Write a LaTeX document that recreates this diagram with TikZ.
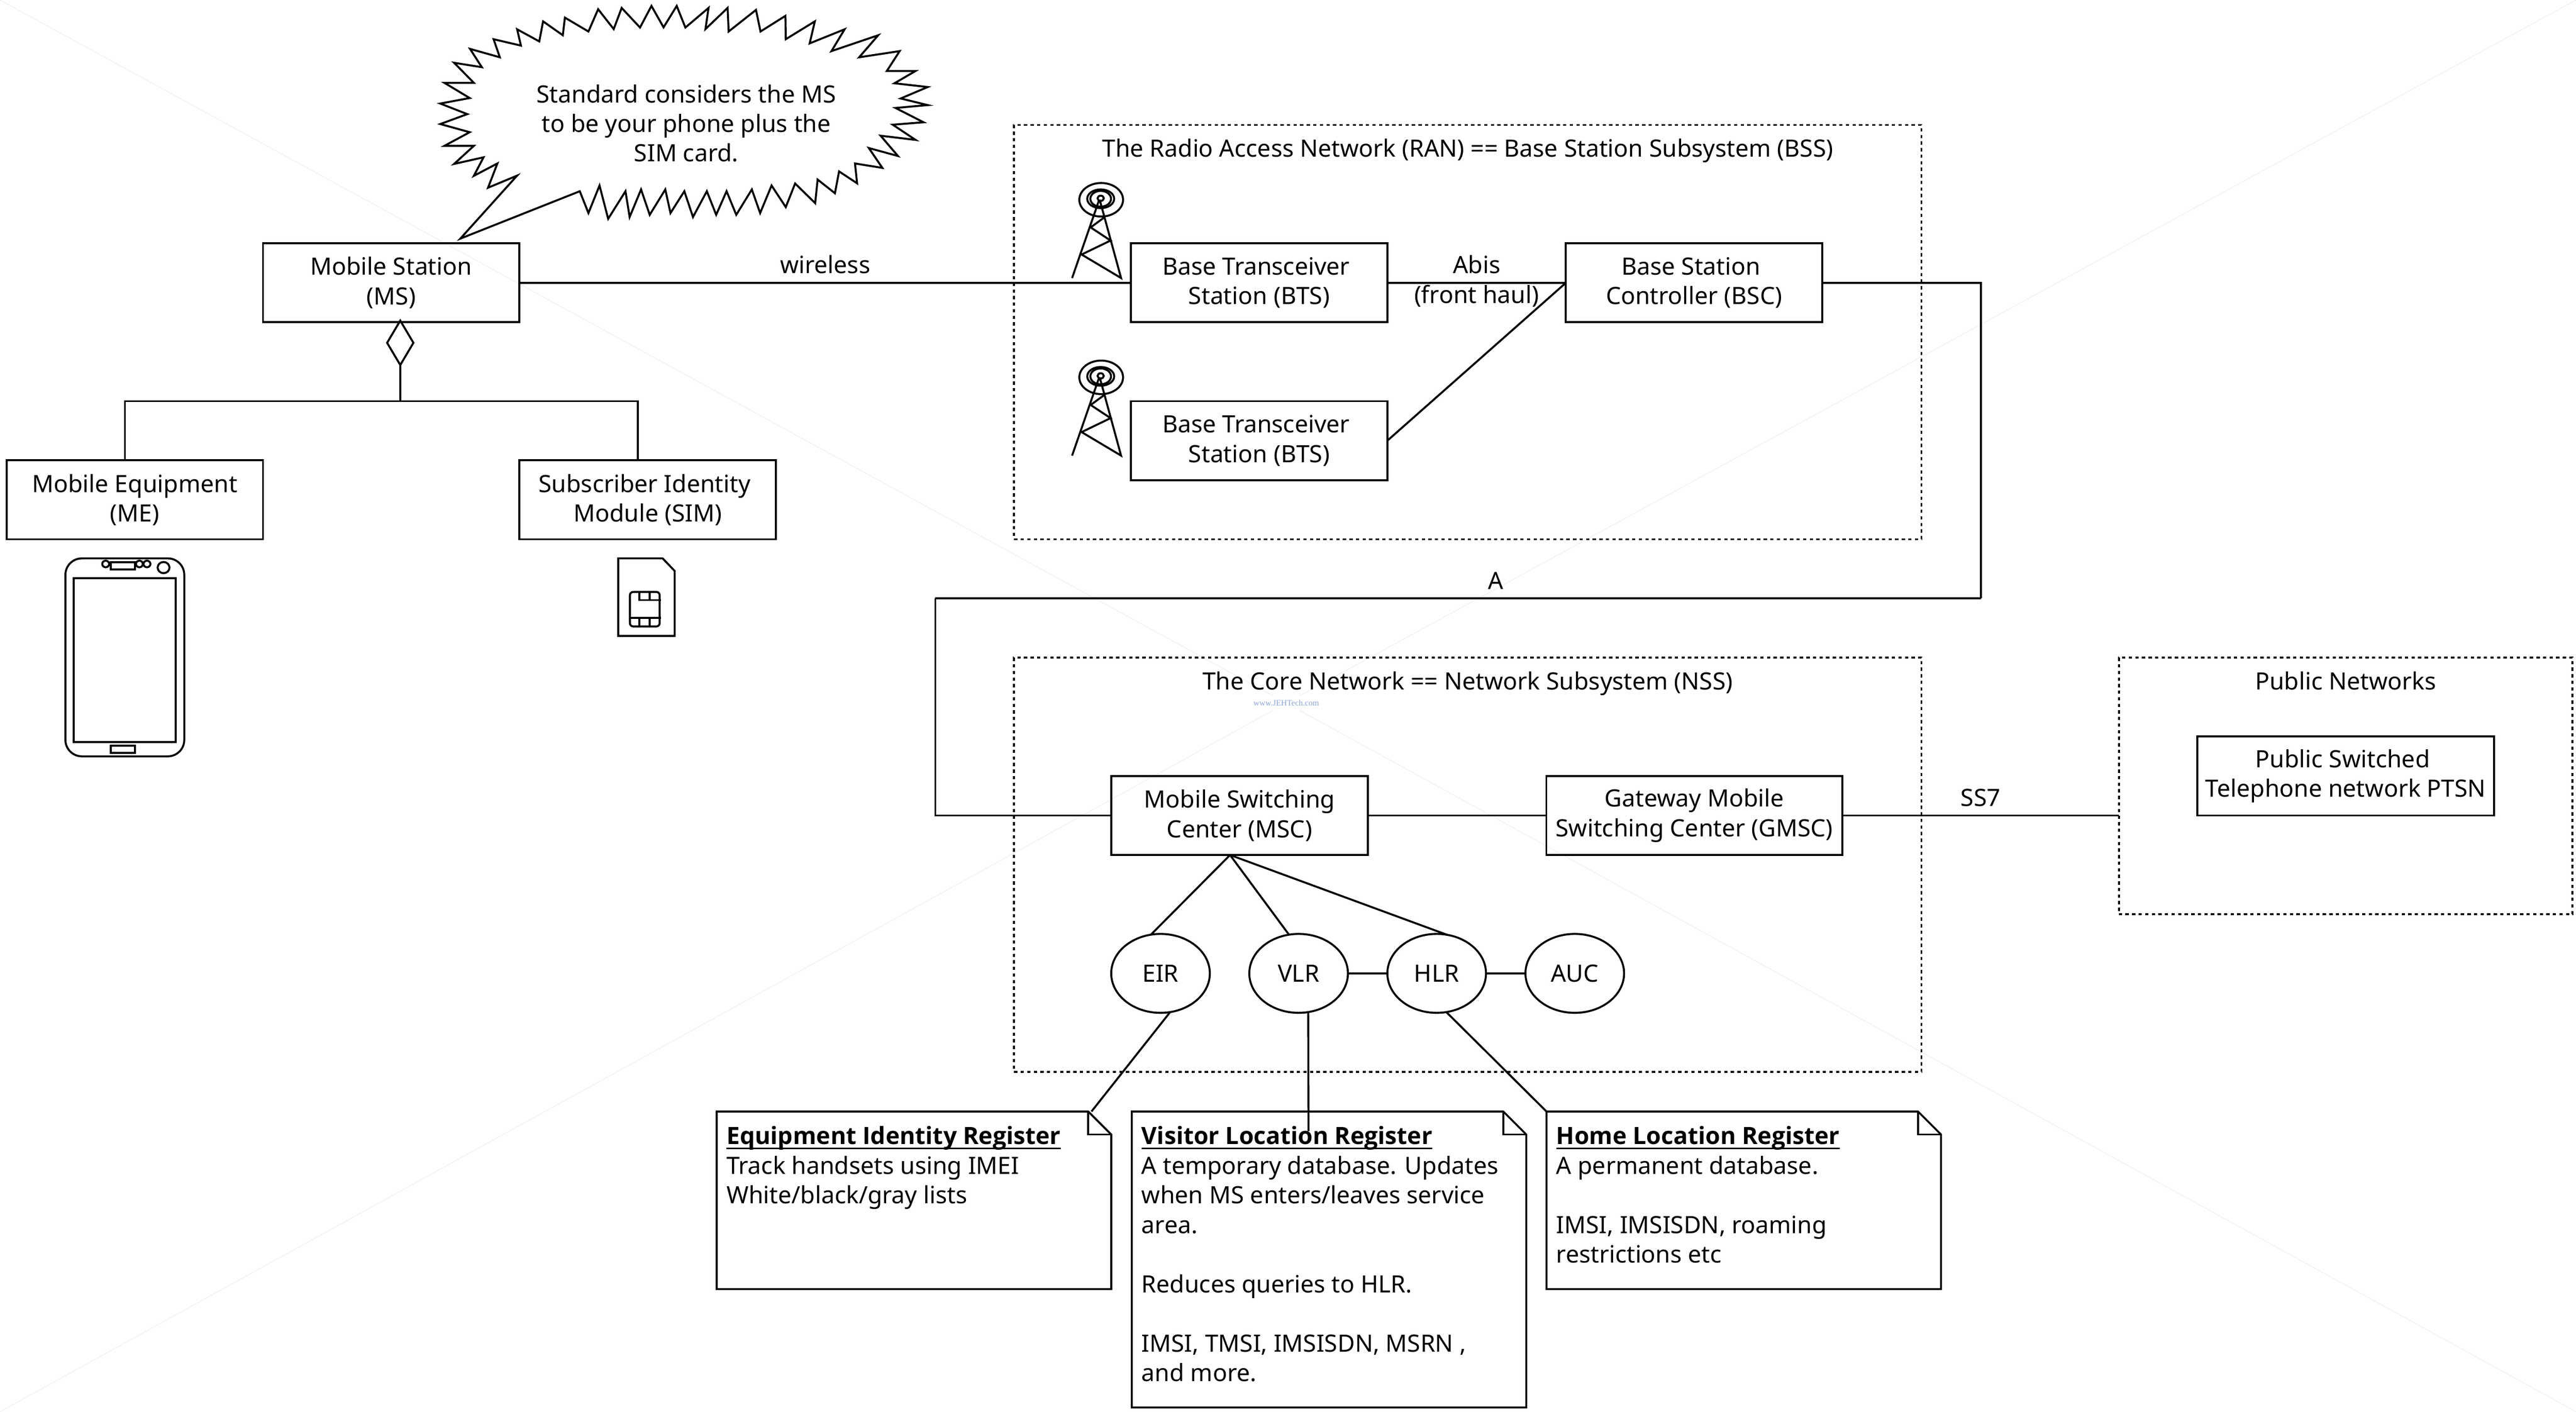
\documentclass[tikz,border=0pt]{standalone}
\usepackage{fontspec}
\setmainfont{Noto Sans}
\newfontfamily\headfont{Open Sans}
\newfontfamily\markfont{Liberation Serif}
\usetikzlibrary{shapes.geometric}
\definecolor{markblue}{RGB}{140,165,215}

\begin{document}
\begin{tikzpicture}[x=1pt,y=-1pt,line width=1.2pt]
    \tikzstyle{words}=[font=\fontsize{14.5}{18}\selectfont]
    \tikzstyle{unit}=[draw,
        shape=rectangle,
        words,
        align=center,
        inner sep=1pt,
        outer sep=0pt,
        minimum width=156pt,
        minimum height=48pt]
    \tikzstyle{store}=[draw,
        shape=ellipse,
        words,
        inner sep=0pt,
        outer sep=0pt,
        minimum width=60pt,
        minimum height=48pt]
    \tikzstyle{group}=[draw,
        shape=rectangle,
        dash pattern=on 2pt off 2pt,
        outer sep=0pt]
    \tikzstyle{tag}=[words,inner sep=2pt,align=center]
    \tikzstyle{label}=[tag,text height=10pt,text depth=3pt]
    \tikzstyle{memo}=[words,inner sep=6pt,outer sep=0pt,anchor=north west]
    \tikzstyle{water}=[line width=0.35pt,color=black!7]
    \newcommand{\heading}[1]{\setbox0\hbox{\headfont\bfseries #1}\rlap{\rule[-2.9pt]{\wd0}{1pt}}\box0\\}
    \newcommand{\memotext}[2]{\parbox[t][#1][t]{228pt}{\raggedright\rule{0pt}{14.1pt}#2}}

    \useasboundingbox (0,0) rectangle (1567.1,858.6);

    \node[font=\markfont\fontsize{5}{6}\selectfont,text=markblue,inner sep=2pt] (mark) at (782.5,427.6) {www.JEHTech.com};
    \coordinate (nw) at (0,0);
    \coordinate (ne) at (1567.1,0);
    \coordinate (sw) at (0,858.6);
    \coordinate (se) at (1567.1,858.6);
    \draw[water] (nw) -- (mark) (mark) -- (se) (ne) -- (mark) (mark) -- (sw);

    \node[group,minimum width=552pt,minimum height=252pt] (ran) at (892.9,202) {};
    \node[label,above of=ran,node distance=110pt] (rantitle) {The Radio Access Network (RAN) == Base Station Subsystem (BSS)};
    \node[group,below of=ran,node distance=324pt,minimum width=552pt,minimum height=252pt] (nss) {};
    \node[label,above of=nss,node distance=110pt] (nsstitle) {The Core Network == Network Subsystem (NSS)};
    \node[group,minimum width=276pt,minimum height=156pt] (pub) at (1427,478) {};
    \node[label,above of=pub,node distance=62pt] (pubtitle) {Public Networks};

    \node[unit] (ms) at (238,172) {Mobile Station\\(MS)};
    \node[unit,below of=ms,node distance=132pt,xshift=-156pt] (me) {Mobile Equipment\\(ME)};
    \node[unit,below of=ms,node distance=132pt,xshift=156pt] (sim) {Subscriber Identity~\mbox{}\\Module (SIM)};
    \node[unit] (bts1) at (766,172) {Base Transceiver~\mbox{}\\Station (BTS)};
    \node[unit,below of=bts1,node distance=96pt] (bts2) {Base Transceiver~\mbox{}\\Station (BTS)};
    \node[unit,right of=bts1,node distance=264.6pt] (bsc) {Base Station~\mbox{}\\Controller (BSC)};
    \node[unit] (msc) at (754.1,496) {Mobile Switching\\Center (MSC)};
    \node[unit,right of=msc,node distance=276.6pt,minimum width=180pt] (gmsc) {Gateway Mobile\\Switching Center (GMSC)};
    \node[unit,above of=pub,node distance=6pt,minimum width=180.5pt] (ptsn) {Public Switched~\mbox{}\\Telephone network PTSN};

    \node[store] (eir) at (706,592) {EIR};
    \node[store,right of=eir,node distance=84pt] (vlr) {VLR};
    \node[store,right of=vlr,node distance=84pt] (hlr) {HLR};
    \node[store,right of=hlr,node distance=84pt] (auc) {AUC};

    \node[draw,shape=diamond,inner sep=0pt,outer sep=0pt,minimum width=16pt,minimum height=27pt] (agg) at (243.5,208.5) {};
    \coordinate[below of=agg,node distance=35.5pt] (fork);
    \draw (agg.south) -- (fork);
    \draw ([xshift=-6pt]me.north) |- (fork);
    \draw ([xshift=-6pt]sim.north) |- (fork);

    \node[memo] (eirnote) at (436,676) {\memotext{96pt}{\heading{Equipment Identity Register}
        Track handsets using IMEI\\
        White/black/gray lists}};
    \node[memo] (vlrnote) at (688.5,676) {\memotext{168pt}{\heading{Visitor Location Register}
        A temporary database. Updates\\
        when MS enters/leaves service\\
        area.\\[18pt]
        Reduces queries to HLR.\\[18pt]
        IMSI, TMSI, IMSISDN, MSRN ,\\
        and more.}};
    \node[memo] (hlrnote) at (940.8,676) {\memotext{96pt}{\heading{Home Location Register}
        A permanent database.\\[18pt]
        IMSI, IMSISDN, roaming\\
        restrictions etc}};
    \foreach \n in {eirnote,vlrnote,hlrnote} {
        \draw (\n.north west) -- ([xshift=-14pt]\n.north east) -- ([yshift=-14pt]\n.north east)
            -- (\n.south east) -- (\n.south west) -- cycle;
        \draw ([xshift=-14pt]\n.north east) -- ([xshift=-14pt,yshift=-14pt]\n.north east) -- ([yshift=-14pt]\n.north east);
    }

    \coordinate (aright) at (1205,364);
    \coordinate (aleft) at (569,364);
    \coordinate (mscfoot) at (748.3,520);
    \coordinate (vlrend) at (796,688);
    \path (ms.east) edge node[label,above]{wireless} (bts1.west)
            (bts1.east) edge node[label,above]{Abis} node[label,below]{(front haul)} (bsc.west)
            (bts2.east) edge (bsc.west)
            (msc.east) edge (gmsc.west)
            (gmsc.east) edge node[label,above]{SS7} (pub.west |- gmsc.east)
            (aright) edge node[label,above,pos=0.464]{A} (aleft)
            (mscfoot) edge (eir.104) (mscfoot) edge (vlr.104) (mscfoot) edge (hlr.75)
            (vlr) edge (hlr) (hlr) edge (auc)
            (eir.284) edge ([xshift=-12pt]eirnote.north east)
            (vlr.284) edge (vlrend)
            (hlr.284) edge (hlrnote.north west);
    \draw (bsc.east) -| (aright);
    \draw (aleft) |- (msc.west);

    \node[tag] (say) at (417.5,75) {Standard considers the MS\\to be your phone plus the\\SIM card.};
    \begin{scope}[shift={(255.2,0)},xscale=0.2106,yscale=0.134]
        \draw plot coordinates {(118,1083) (282,797) (198,852) (225,742) (157,798) (185,714) (100,744) (157,662) (72,662) (145,600) (60,563) (138,518) (60,470) (145,445) (72,376) (157,376) (100,285) (180,305) (146,222) (232,260) (214,178) (293,207) (282,133) (346,188) (357,97) (414,160) (420,80) (488,143) (516,42) (561,132) (584,36) (637,125) (670,27) (705,124) (743,27) (768,125) (835,36) (826,132) (890,36) (893,143) (972,45) (985,143) (1057,72) (1058,178) (1142,97) (1127,197) (1228,133) (1190,232) (1325,160) (1270,260) (1387,232) (1350,322) (1433,322) (1372,378) (1468,395) (1390,447) (1468,477) (1375,490) (1456,555) (1367,566) (1433,635) (1332,616) (1382,708) (1298,672) (1337,762) (1258,742) (1264,832) (1212,778) (1200,877) (1150,815) (1143,922) (1085,833) (1058,940) (1017,842) (984,967) (960,860) (915,975) (887,868) (857,975) (830,868) (790,985) (765,868) (725,967) (710,860) (665,975) (640,860) (607,985) (595,868) (545,993) (520,842) (488,967) (463,868)} -- cycle;
    \end{scope}

    \foreach \n in {0,108} {
        \begin{scope}[yshift=-\n pt]
            \draw (669.9,121.5) ellipse [x radius=13.3,y radius=10.2];
            \draw (669.6,120.9) ellipse [x radius=8.2,y radius=5.7];
            \draw (669.6,120.9) ellipse [x radius=6.3,y radius=4.8];
            \draw (669.6,120.6) ellipse [x radius=1.9,y radius=1.6];
            \draw (652.2,169.1) -- (668.7,121.5);
            \draw (669,121.5) -- (682,169.1) -- (658,154.8) -- (675.6,146.3) -- (663.5,138.3) -- (672.1,132);
        \end{scope}
    }

    \draw[rounded corners=10pt] (39.8,339.6) rectangle (112.1,460);
    \draw (44.7,351.7) rectangle (106.9,451.4);
    \draw (67.4,341.9) rectangle (82.1,346.2);
    \draw (67.4,453.4) rectangle (82.1,457.8);
    \draw (64.3,343) ellipse [x radius=2.1,y radius=2];
    \draw (84.8,343) ellipse [x radius=2.1,y radius=2];
    \draw (89.4,343) ellipse [x radius=2.1,y radius=2];
    \draw (99.5,345.2) ellipse [x radius=3.6,y radius=3.4];

    \draw (376.1,339.6) -- (403.1,339.6) -- (410.4,347.2) -- (410.4,386.8) -- (376.1,386.8) -- cycle;
    \draw[rounded corners=2pt] (383.2,360) rectangle (401.3,381);
    \draw (389,360) -- (389,365) -- (402,365);
    \draw (395.1,360) -- (395.1,365);
    \draw (383.2,375.8) -- (402,375.8);
    \draw (389,375.8) -- (389,381);
    \draw (395.1,375.8) -- (395.1,381);
\end{tikzpicture}
\end{document}
